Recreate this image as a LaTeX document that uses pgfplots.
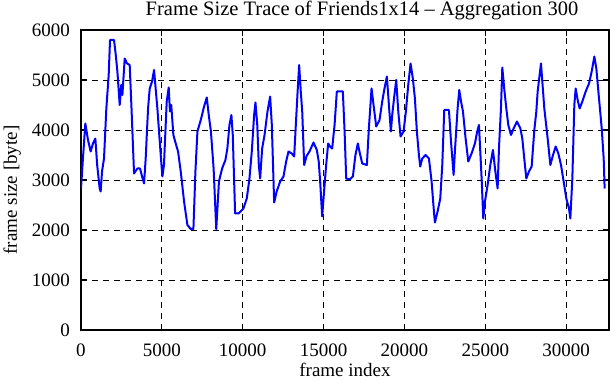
\documentclass[border=0pt]{standalone}
\usepackage{fontspec}
\setmainfont{Liberation Serif}
\usepackage{pgfplots}
\pgfplotsset{compat=1.18}
\newcommand{\bigf}{\fontsize{19}{22}\selectfont}
\begin{document}
\begin{tikzpicture}
\begin{axis}[
  at={(0,0)}, anchor=south west,
  scale only axis, width=528pt, height=300pt,
  xmin=0, xmax=32650, ymin=0, ymax=6000,
  xtick={0,5000,10000,15000,20000,25000,30000},
  ytick={0,1000,2000,3000,4000,5000,6000},
  scaled x ticks=false, scaled y ticks=false,
  /pgf/number format/assume math mode=true,
  /pgf/number format/1000 sep={},
  tick label style={font=\bigf},
  xticklabel style={anchor=center, inner sep=0pt, yshift=-20pt},
  yticklabel style={anchor=east, inner sep=0pt, xshift=-11pt},
  tick align=inside, major tick length=6pt,
  every tick/.style={black, line width=1.2pt},
  axis line style={black, line width=1.6pt},
  grid=major,
  major grid style={black, line width=0.8pt, dash pattern=on 6pt off 5pt},
]
\addplot[color={rgb,255:red,0;green,0;blue,255}, line width=2pt, no marks, line join=round] coordinates {
(0,2830) (120,3430) (268,4130) (433,3800) (598,3570) (740,3730) (887,3830) (1000,3300)
(1155,2830) (1217,2770) (1300,3170) (1423,3430) (1567,4430) (1712,5100) (1795,5800) (2042,5800)
(2150,5500) (2250,5170) (2393,4500) (2490,4900) (2560,4700) (2702,5430) (2850,5330) (3011,5300)
(3115,4500) (3280,3130) (3486,3230) (3650,3230) (3775,3070) (3899,2930) (4000,3430) (4146,4430)
(4250,4830) (4393,4970) (4517,5200) (4723,4430) (4930,3500) (5033,3070) (5130,3300) (5300,4570)
(5424,4850) (5500,4370) (5580,4500) (5713,3900) (5857,3730) (6002,3570) (6167,3170) (6373,2570)
(6580,2100) (6786,2020) (6951,2020) (7075,3170) (7199,3970) (7405,4200) (7611,4470) (7777,4650)
(7900,4300) (8034,3970) (8200,3230) (8364,2020) (8530,2970) (8725,3230) (8931,3400) (9050,3630)
(9180,4100) (9300,4300) (9385,3900) (9529,2330) (9735,2330) (10045,2430) (10251,2630) (10417,3030)
(10561,3570) (10706,4300) (10788,4550) (10900,4100) (10995,3300) (11078,3030) (11202,3630) (11350,3900)
(11532,4370) (11696,4670) (11800,4100) (11944,2550) (12100,2770) (12314,2970) (12521,3070) (12686,3370)
(12830,3570) (13037,3530) (13181,3470) (13305,4230) (13400,4800) (13490,5300) (13590,4770) (13680,4370)
(13800,3300) (13950,3480) (14129,3570) (14377,3750) (14583,3600) (14700,3370) (14789,2970) (14913,2270)
(15030,2770) (15160,3300) (15284,3730) (15400,3670) (15531,3630) (15680,4100) (15820,4770) (16192,4770)
(16300,3970) (16399,3030) (16605,3010) (16812,3070) (16970,3500) (17118,3730) (17220,3570) (17389,3330)
(17678,3300) (17800,4030) (17884,4430) (17966,4830) (18090,4500) (18256,4070) (18460,4200) (18626,4570)
(18750,4800) (18915,5070) (19040,4500) (19162,3970) (19245,4300) (19370,4670) (19492,5000) (19620,4370)
(19760,3870) (19946,3970) (20090,4370) (20235,4900) (20380,5330) (20520,5030) (20648,4630) (20770,3970)
(20895,3500) (20978,3270) (21100,3430) (21309,3500) (21515,3430) (21680,2970) (21824,2370) (21886,2150)
(22050,2370) (22216,2630) (22340,3300) (22463,4400) (22752,4400) (22880,3770) (23041,3100) (23120,3570)
(23288,4430) (23390,4800) (23500,4570) (23620,4370) (23783,3830) (23948,3370) (24150,3530) (24360,3730)
(24500,3970) (24608,4100) (24690,3570) (24773,3030) (24876,2230) (24980,2570) (25144,2900) (25310,3300)
(25474,3600) (25600,3230) (25680,3030) (25763,2830) (25845,3630) (25969,4430) (26052,5250) (26170,4830)
(26300,4430) (26423,4100) (26588,3900) (26750,4030) (26959,4170) (27170,4030) (27289,3830) (27410,3430)
(27537,3030) (27700,3170) (27867,3270) (28032,4000) (28156,4370) (28238,4770) (28444,5330) (28650,4430)
(28857,3830) (29022,3300) (29187,3500) (29352,3670) (29517,3530) (29682,3300) (29846,2970) (30011,2630)
(30176,2430) (30259,2230) (30383,3030) (30506,4500) (30589,4830) (30712,4600) (30836,4430) (31000,4570)
(31208,4770) (31414,4930) (31579,5170) (31744,5470) (31867,5230) (32032,4630) (32200,4030) (32321,3430)
(32380,2830)
};
\end{axis}
\node[font=\fontsize{20.5}{23}\selectfont, anchor=base, inner sep=0pt] at (281pt,314pt) {Frame Size Trace of Friends1x14 – Aggregation 300};
\node[font=\bigf, anchor=base, inner sep=0pt] at (264pt,-47pt) {frame index};
\node[font=\bigf, anchor=base, inner sep=0pt, rotate=90] at (-64pt,140pt) {frame size [byte]};
\pgfresetboundingbox
\path (-81pt,-50pt) rectangle (530pt,330pt);
\end{tikzpicture}
\end{document}
